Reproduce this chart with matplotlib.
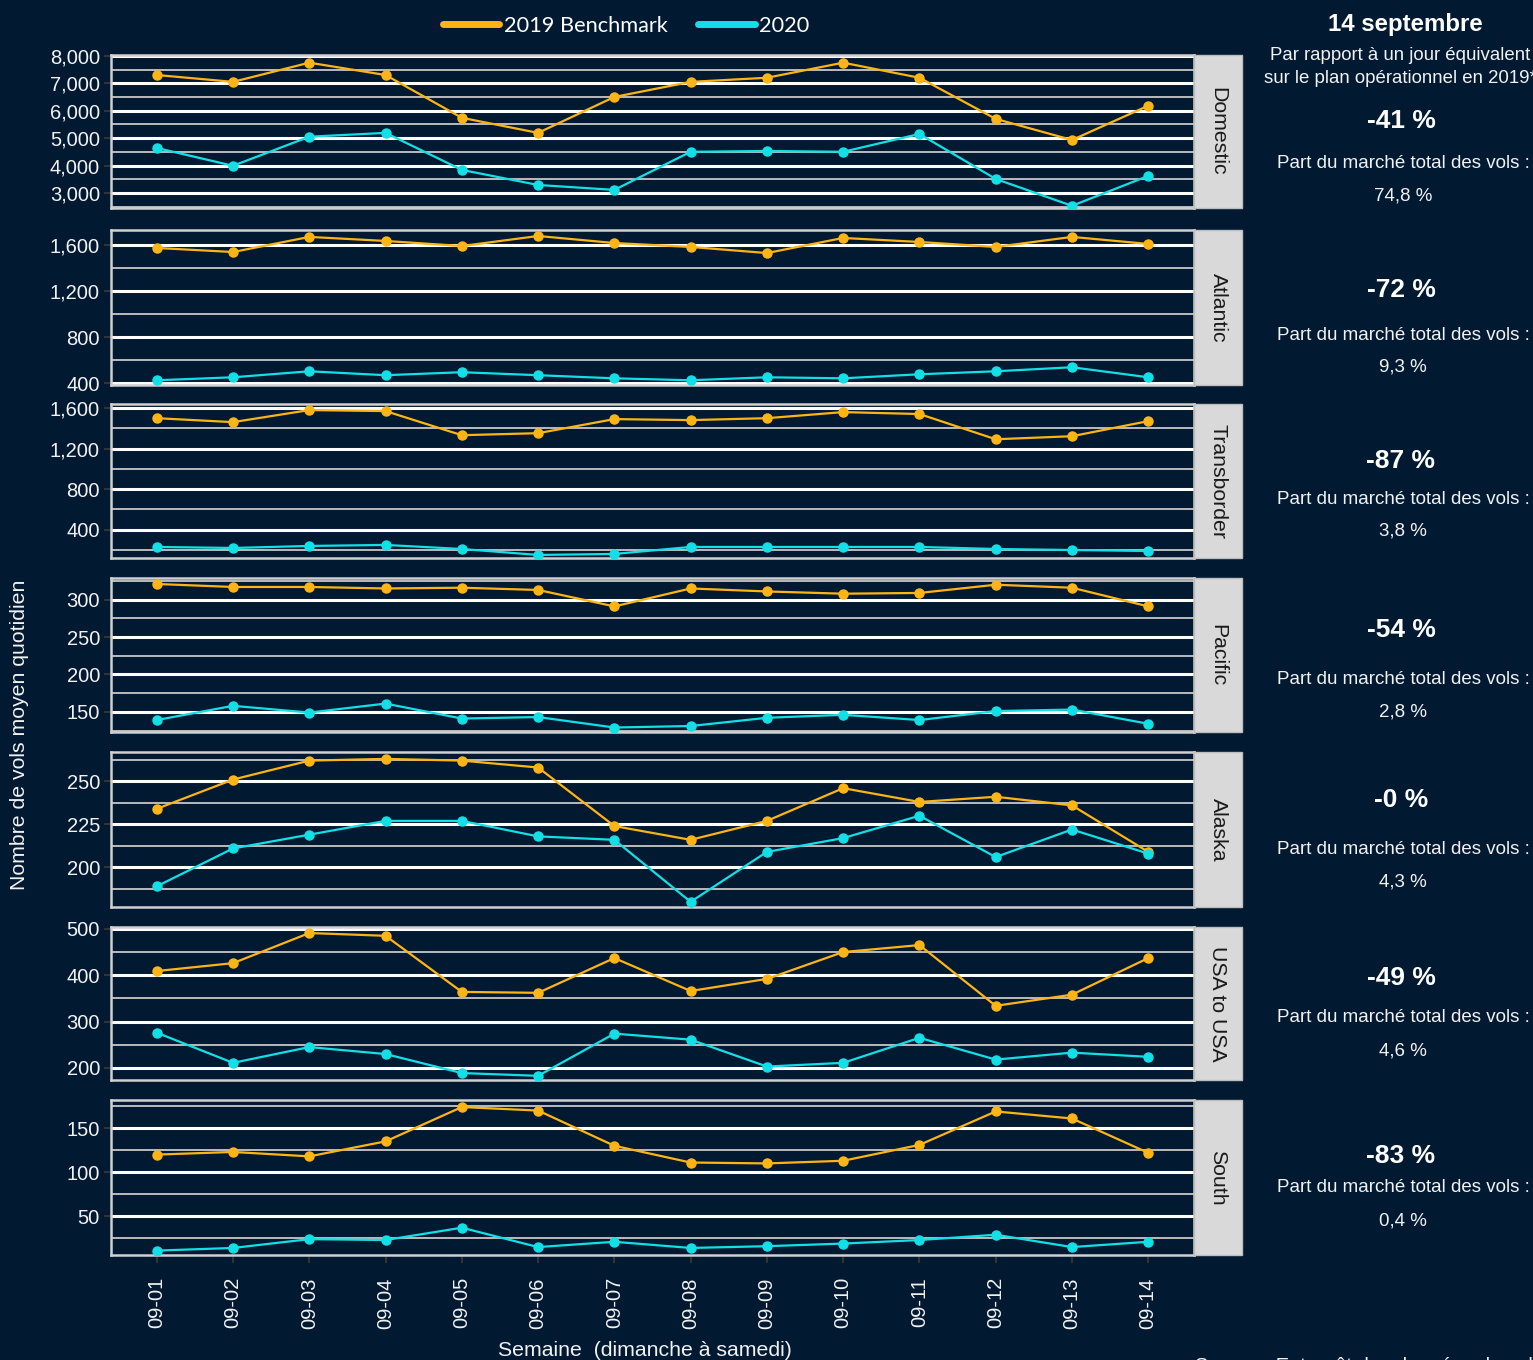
# Vols moyens quotidiens par secteur : 2019 Benchmark vs 2020
import numpy as np
import matplotlib.pyplot as plt
from matplotlib.lines import Line2D
from matplotlib.patches import Rectangle
from matplotlib.ticker import FixedLocator

# Données
jours = ['09-01', '09-02', '09-03', '09-04', '09-05', '09-06', '09-07',
         '09-08', '09-09', '09-10', '09-11', '09-12', '09-13', '09-14']
secteurs = ['Domestic', 'Atlantic', 'Transborder', 'Pacific', 'Alaska', 'USA to USA', 'South']

domestic_2019 = [7300, 7050, 7750, 7300, 5740, 5190, 6500, 7050, 7200, 7750, 7200, 5700, 4930, 6180]
domestic_2020 = [4640, 3990, 5050, 5190, 3840, 3290, 3110, 4500, 4530, 4500, 5150, 3510, 2530, 3620]
atlantic_2019 = [1574, 1539, 1670, 1635, 1591, 1678, 1617, 1583, 1530, 1661, 1626, 1583, 1670, 1609]
atlantic_2020 = [426, 452, 504, 470, 496, 470, 443, 426, 452, 443, 478, 504, 539, 452]
transborder_2019 = [1500, 1461, 1580, 1570, 1332, 1352, 1491, 1481, 1500, 1560, 1541, 1292, 1322, 1471]
transborder_2020 = [229, 219, 239, 249, 209, 150, 160, 229, 229, 229, 229, 209, 199, 189]
pacific_2019 = [321, 317, 317, 315, 316, 313, 291, 315, 311, 308, 309, 320, 316, 291]
pacific_2020 = [139, 158, 149, 161, 141, 143, 129, 131, 142, 146, 139, 151, 153, 134]
alaska_2019 = [234, 251, 262, 263, 262, 258, 224, 216, 227, 246, 238, 241, 236, 209]
alaska_2020 = [189, 211, 219, 227, 227, 218, 216, 180, 209, 217, 230, 206, 222, 208]
usa_2019 = [409, 426, 491, 485, 364, 362, 437, 366, 392, 450, 465, 334, 358, 437]
usa_2020 = [276, 211, 245, 230, 189, 183, 274, 261, 203, 211, 265, 218, 233, 224]
south_2019 = [120, 123, 118, 135, 174, 170, 130, 111, 110, 113, 131, 169, 161, 122]
south_2020 = [11, 14, 24, 23, 37, 15, 21, 14, 16, 19, 23, 29, 15, 21]

serie_2019 = [domestic_2019, atlantic_2019, transborder_2019, pacific_2019,
              alaska_2019, usa_2019, south_2019]
serie_2020 = [domestic_2020, atlantic_2020, transborder_2020, pacific_2020,
              alaska_2020, usa_2020, south_2020]

variation = ['-41 %', '-72 %', '-87 %', '-54 %', '-0 %', '-49 %', '-83 %']
part_marche = ['74,8 %', '9,3 %', '3,8 %', '2,8 %', '4,3 %', '4,6 %', '0,4 %']

# Axes y de chaque panneau
ticks_majeurs = [[3000, 4000, 5000, 6000, 7000, 8000],
                 [400, 800, 1200, 1600],
                 [400, 800, 1200, 1600],
                 [150, 200, 250, 300],
                 [200, 225, 250],
                 [200, 300, 400, 500],
                 [50, 100, 150]]
ticks_mineurs = [[2500, 3500, 4500, 5500, 6500, 7500],
                 [600, 1000, 1400],
                 [200, 600, 1000, 1400],
                 [125, 175, 225, 275, 325],
                 [187.5, 212.5, 237.5, 262.5],
                 [250, 350, 450],
                 [25, 75, 125, 175]]
limites = [(2450, 8030), (385, 1730), (120, 1640), (123, 329),
           (177, 267), (174, 504), (6, 182)]

# Mise en page (pixels)
W, H = 1533, 1360
haut = [55, 230, 404, 578, 752, 927, 1100]
bas = [208, 385, 558, 732, 907, 1080, 1255]
gauche, droite, strip_w = 111, 1194, 48
y_var = [121, 290, 461, 630, 800, 978, 1156]
y_part = [164, 336, 499, 680, 850, 1018, 1188]
y_val = [196, 367, 531, 712, 882, 1051, 1221]

fond = '#011931'
orange = '#FDB515'
cyan = '#12E0E6'

plt.rcParams['font.family'] = ['Liberation Sans', 'DejaVu Sans']

fig = plt.figure(figsize=(W / 100, H / 100), dpi=100, facecolor=fond)
x = np.arange(len(jours))

for i in range(len(secteurs)):
    ax = fig.add_axes([gauche / W, 1 - bas[i] / H, (droite - gauche) / W, (bas[i] - haut[i]) / H])
    ax.set_facecolor(fond)

    ax.plot(x, serie_2019[i], color=orange, lw=1.6, marker='o', ms=6.5, zorder=3)
    ax.plot(x, serie_2020[i], color=cyan, lw=1.6, marker='o', ms=6.5, zorder=3)

    ax.set_xlim(-0.6, len(jours) - 0.4)
    ax.set_ylim(*limites[i])
    ax.yaxis.set_major_locator(FixedLocator(ticks_majeurs[i]))
    ax.yaxis.set_minor_locator(FixedLocator(ticks_mineurs[i]))
    ax.set_yticklabels([f'{t:,}' for t in ticks_majeurs[i]])
    ax.grid(True, which='major', axis='y', color='white', lw=2.2, zorder=1)
    ax.grid(True, which='minor', axis='y', color='#c8c8c8', lw=1.3, zorder=1)
    ax.tick_params(axis='y', which='major', colors='#333333', length=5, width=1.5,
                   labelcolor='#f2f2f2', labelsize=14.5, pad=3)
    ax.tick_params(axis='y', which='minor', length=0)
    ax.set_xticks(x)
    if i == len(secteurs) - 1:
        ax.set_xticklabels(jours, rotation=90)
        ax.tick_params(axis='x', colors='#333333', length=6, width=1.5,
                       labelcolor='#f2f2f2', labelsize=14.5, pad=10)
    else:
        ax.tick_params(axis='x', length=0, labelbottom=False)
    for s in ax.spines.values():
        s.set_color('#d0d0d0')
        s.set_linewidth(1.8)

    # Bandeau du secteur
    fig.patches.append(Rectangle((droite / W, 1 - bas[i] / H), strip_w / W, (bas[i] - haut[i]) / H,
                                 transform=fig.transFigure, facecolor='#d9d9d9',
                                 edgecolor='#bdbdbd', lw=1))
    fig.text((droite + strip_w / 2) / W, 1 - (haut[i] + bas[i]) / 2 / H, secteurs[i],
             rotation=270, ha='center', va='center', fontsize=15.3, color='#1a1a1a')

    # Texte à droite
    fig.text(1401 / W, 1 - y_var[i] / H, variation[i], ha='center', va='center',
             fontsize=19, fontweight='bold', color='white')
    fig.text(1403 / W, 1 - y_part[i] / H, 'Part du marché total des vols :', ha='center',
             va='center', fontsize=13.5, color='#f2f2f2')
    fig.text(1403 / W, 1 - y_val[i] / H, part_marche[i], ha='center', va='center',
             fontsize=13.5, color='#f2f2f2')

fig.text(1405 / W, 1 - 24 / H, '14 septembre', ha='center', va='center',
         fontsize=17.3, fontweight='bold', color='white')
fig.text(1400 / W, 1 - 67 / H, 'Par rapport à un jour équivalent\nsur le plan opérationnel en 2019*',
         ha='center', va='center', fontsize=13.4, color='#f2f2f2', linespacing=1.45)

fig.text(20 / W, 1 - 735 / H, 'Nombre de vols moyen quotidien', rotation=90,
         ha='center', va='center', fontsize=15.3, color='#f2f2f2')
fig.text(645 / W, 1 - 1350 / H, 'Semaine  (dimanche à samedi)', ha='center', va='center',
         fontsize=15.3, color='#f2f2f2')
fig.text(1195 / W, 1 - 1367 / H, 'Source : Entrepôt des données de vol', ha='left', va='center',
         fontsize=14.5, color='#f2f2f2')

# Légende
poignees = [Line2D([], [], color=orange, lw=5, solid_capstyle='round'),
            Line2D([], [], color=cyan, lw=5, solid_capstyle='round')]
fig.legend(poignees, ['2019 Benchmark', '2020'], loc='center', bbox_to_anchor=(626 / W, 1 - 26 / H),
           ncol=2, frameon=False, labelcolor='white', handlelength=2.6,
           handletextpad=0.2, columnspacing=1.4, prop={'family': 'Lato', 'size': 15.7})

fig.savefig('out.png', dpi=100, facecolor=fond)
